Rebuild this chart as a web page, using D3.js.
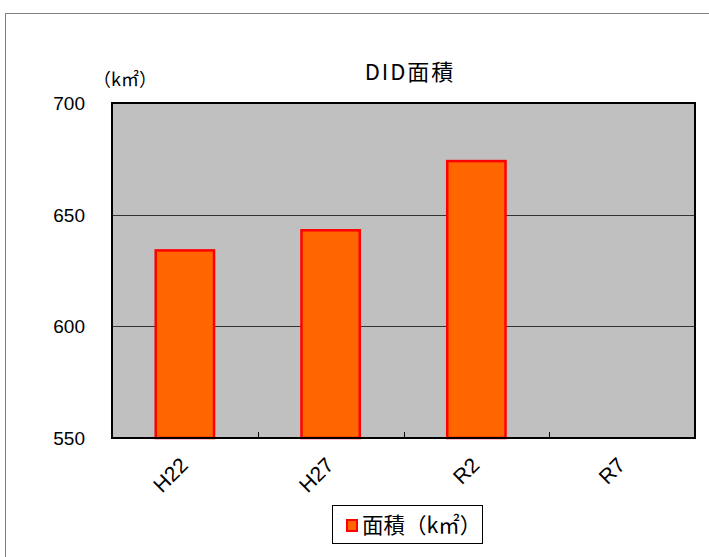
<!DOCTYPE html>
<html>
<head>
<meta charset="utf-8">
<script src="https://cdn.jsdelivr.net/npm/d3@7"></script>
<style>
  html, body { margin: 0; padding: 0; background: #fff; }
  svg { display: block; }
  text { font-family: "Noto Sans CJK JP", "Liberation Sans", sans-serif; fill: #000; }
  .num { font-family: "Liberation Sans", "Noto Sans CJK JP", sans-serif; }
</style>
</head>
<body>
<svg id="chart" width="709" height="557"></svg>
<script>
// DID area by census year (km²)
const categories = ["H22", "H27", "R2", "R7"];
const areaValues = [634, 643, 674, null];
const yTicks = [550, 600, 650, 700];
const titleText = "DID面積";
const unitText = "（k㎡）";
const legendText = "面積（k㎡）";

const svg = d3.select("#chart");
const W = 709, H = 557;
const plot = { left: 112, right: 695, top: 103, bottom: 438 };

// outer chart frame
svg.append("rect")
  .attr("x", 5.5).attr("y", 13.5)
  .attr("width", W + 10).attr("height", H + 10)
  .attr("fill", "#fff").attr("stroke", "#808080").attr("stroke-width", 1);

const x = d3.scaleBand().domain(categories)
  .range([plot.left, plot.right]).paddingInner(0.6).paddingOuter(0.3);
const xBand = d3.scaleBand().domain(categories).range([plot.left, plot.right]);
const y = d3.scaleLinear().domain([550, 700]).range([plot.bottom, plot.top]);

// plot background
svg.append("rect")
  .attr("x", plot.left).attr("y", plot.top)
  .attr("width", plot.right - plot.left).attr("height", plot.bottom - plot.top)
  .attr("fill", "#C0C0C0");

// gridlines
svg.append("g").selectAll("line")
  .data(yTicks.filter(t => t > 550 && t < 700))
  .join("line")
  .attr("x1", plot.left).attr("x2", plot.right)
  .attr("y1", d => Math.round(y(d)) + 0.5).attr("y2", d => Math.round(y(d)) + 0.5)
  .attr("stroke", "#333").attr("stroke-width", 1);

// bars
svg.append("g").selectAll("rect")
  .data(categories.map((c, i) => ({ c, v: areaValues[i] })).filter(d => d.v != null))
  .join("rect")
  .attr("x", d => x(d.c))
  .attr("y", d => y(d.v))
  .attr("width", x.bandwidth())
  .attr("height", d => plot.bottom - y(d.v))
  .attr("fill", "#FF6600")
  .attr("stroke", "#FF0000")
  .attr("stroke-width", 2.5);

// plot border
svg.append("rect")
  .attr("x", plot.left).attr("y", plot.top)
  .attr("width", plot.right - plot.left).attr("height", plot.bottom - plot.top)
  .attr("fill", "none").attr("stroke", "#000").attr("stroke-width", 2);

// category tick marks between bands
svg.append("g").selectAll("line")
  .data(categories.slice(1))
  .join("line")
  .attr("x1", d => Math.round(xBand(d)) + 0.5).attr("x2", d => Math.round(xBand(d)) + 0.5)
  .attr("y1", plot.bottom - 6).attr("y2", plot.bottom)
  .attr("stroke", "#000").attr("stroke-width", 1);

// y tick labels
svg.append("g").selectAll("text")
  .data(yTicks)
  .join("text")
  .attr("class", "num")
  .attr("x", 85).attr("y", d => y(d) + 7)
  .attr("text-anchor", "end")
  .attr("font-size", 19)
  .text(d => d);

// x labels, rotated so the text ends under the band centre
svg.append("g").selectAll("text")
  .data(categories)
  .join("text")
  .attr("class", "num")
  .attr("transform", d => `translate(${xBand(d) + xBand.bandwidth() / 2 - 6},${plot.bottom + 18}) rotate(-45)`)
  .attr("text-anchor", "end")
  .attr("dy", "0.7em")
  .attr("font-size", 21)
  .text(d => d);

// title
svg.append("text")
  .attr("x", 410).attr("y", 80)
  .attr("text-anchor", "middle")
  .attr("font-size", 22)
  .attr("letter-spacing", 2)
  .text(titleText);

// unit label
svg.append("text")
  .attr("x", 125).attr("y", 86)
  .attr("text-anchor", "middle")
  .attr("font-size", 18)
  .text(unitText);

// legend
const lg = svg.append("g");
lg.append("rect")
  .attr("x", 332.5).attr("y", 505.5).attr("width", 150).attr("height", 38)
  .attr("fill", "#fff").attr("stroke", "#000").attr("stroke-width", 1);
lg.append("rect")
  .attr("x", 347).attr("y", 520).attr("width", 10).attr("height", 11)
  .attr("fill", "#FF6600").attr("stroke", "#FF0000").attr("stroke-width", 2);
lg.append("text")
  .attr("x", 362).attr("y", 533)
  .attr("font-size", 21.5)
  .text(legendText);
</script>
</body>
</html>
